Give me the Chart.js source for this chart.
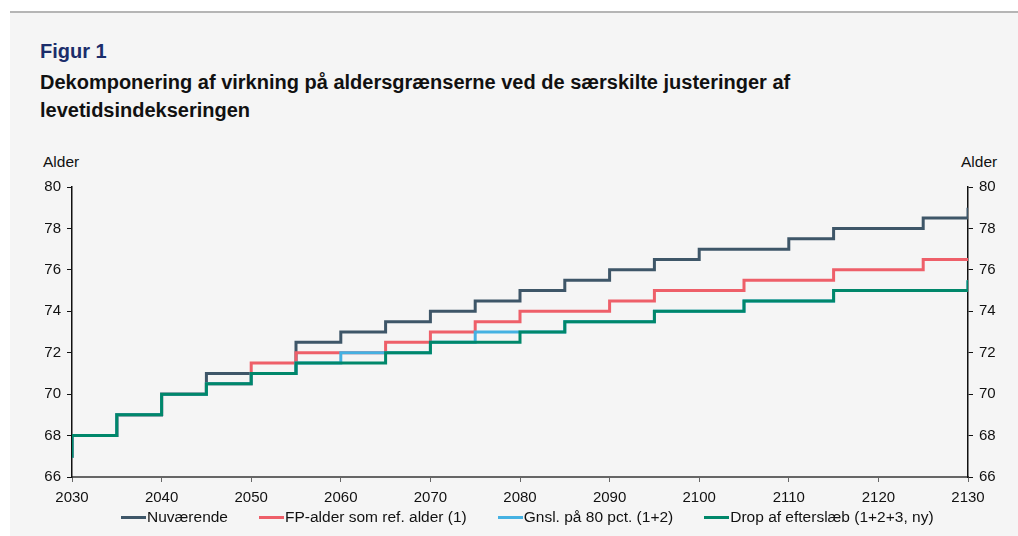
<!DOCTYPE html>
<html>
<head>
<meta charset="utf-8">
<script src="https://cdn.jsdelivr.net/npm/chart.js@4"></script>
<style>
  body { margin: 0; width: 1018px; height: 536px; position: relative; background: #fff; font-family: "Liberation Sans", Arial, sans-serif; overflow: hidden; }
  #bg { position: absolute; left: 10px; top: 11px; right: 0; bottom: 0; background: #f5f5f5; border-top: 2px solid #b5b5b5; }
  .t { position: absolute; left: 40px; font-weight: bold; font-size: 20px; line-height: 23px; white-space: nowrap; }
  #fig { top: 40px; color: #1b2d6b; }
  #sub1 { top: 71px; color: #111; }
  #sub2 { top: 99px; color: #111; }
  .alder { position: absolute; top: 153px; font-size: 15.5px; line-height: 18px; color: #111; }
  #wrap { position: absolute; left: 0; top: 0; width: 1018px; height: 536px; }
  #legend { position: absolute; left: 121px; top: 508px; display: flex; font-size: 15.5px; line-height: 18px; color: #111; white-space: nowrap; }
  #legend .item { display: flex; align-items: center; margin-right: 31px; }
  #legend .mark { width: 25px; height: 3px; margin-right: 1px; }
</style>
</head>
<body>
<div id="bg"></div>
<div class="t" id="fig">Figur 1</div>
<div class="t" id="sub1">Dekomponering af virkning på aldersgrænserne ved de særskilte justeringer af</div>
<div class="t" id="sub2">levetidsindekseringen</div>
<div class="alder" style="left:43px">Alder</div>
<div class="alder" style="left:961px">Alder</div>
<div id="wrap"><canvas id="myChart"></canvas></div>
<div id="legend"></div>
<script>
// pension age per 5-year step, value holds from that year until the next one
const years = [2025, 2030, 2035, 2040, 2045, 2050, 2055, 2060, 2065, 2070, 2075, 2080,
    2085, 2090, 2095, 2100, 2105, 2110, 2115, 2120, 2125, 2130];

const nuvaerende = [67, 68, 69, 70, 71, 71, 72.5, 73, 73.5, 74, 74.5, 75,
    75.5, 76, 76.5, 77, 77, 77.5, 78, 78, 78.5, 79];
const fpAlder = [67, 68, 69, 70, 70.5, 71.5, 72, 72, 72.5, 73, 73.5, 74,
    74, 74.5, 75, 75, 75.5, 75.5, 76, 76, 76.5, 76.5];
const gnsl80 = [67, 68, 69, 70, 70.5, 71, 71.5, 72, 72, 72.5, 73, 73,
    73.5, 73.5, 74, 74, 74.5, 74.5, 75, 75, 75, 75.5];
const dropEfterslaeb = [67, 68, 69, 70, 70.5, 71, 71.5, 71.5, 72, 72.5, 72.5, 73,
    73.5, 73.5, 74, 74, 74.5, 74.5, 75, 75, 75, 75.5];

const seriesNames = ['Nuværende', 'FP-alder som ref. alder (1)', 'Gnsl. på 80 pct. (1+2)', 'Drop af efterslæb (1+2+3, ny)'];
const seriesColors = ['#3e5668', '#ee5f69', '#45b1e2', '#00876a'];
const seriesValues = [nuvaerende, fpAlder, gnsl80, dropEfterslaeb];

const yTicks = [66, 68, 70, 72, 74, 76, 78, 80];

Chart.defaults.font.family = '"Liberation Sans", Arial, sans-serif';
Chart.defaults.font.size = 15;
Chart.defaults.color = '#111';

const datasets = [];
for (let i = 0; i < seriesNames.length; i++) {
    datasets.push({
        label: seriesNames[i],
        data: years.map((yr, j) => ({ x: yr, y: seriesValues[i][j] })),
        borderColor: seriesColors[i],
        backgroundColor: seriesColors[i],
        borderWidth: 3,
        pointRadius: 0,
        stepped: 'before',
        order: seriesNames.length - i // last series on top
    });
}

const axisGrid = (col) => ({ drawOnChartArea: false, color: col, tickLength: 5, tickWidth: 1 });

var ctx = document.getElementById('myChart').getContext('2d');
var myChart = new Chart(ctx, { // eslint-disable-line
    type: 'line',
    data: { datasets: datasets },
    options: {
        responsive: true,
        maintainAspectRatio: false,
        animation: false,
        layout: { padding: { left: 40, right: 0, top: 187, bottom: 29 } },
        scales: {
            x: {
                type: 'linear',
                min: 2030,
                max: 2130,
                ticks: { stepSize: 10, padding: 7, callback: v => String(v) },
                grid: axisGrid('#666'),
                border: { color: '#666', width: 2 },
                afterFit: s => { s.height = 30; }
            },
            y: {
                position: 'left',
                min: 66,
                max: 80,
                afterBuildTicks: s => { s.ticks = yTicks.map(v => ({ value: v })); },
                ticks: { padding: 6 },
                grid: axisGrid('#111'),
                border: { color: '#111', width: 1.5 },
                afterFit: s => { s.width = 32; }
            },
            y2: {
                position: 'right',
                display: true,
                min: 66,
                max: 80,
                afterBuildTicks: s => { s.ticks = yTicks.map(v => ({ value: v })); },
                ticks: { padding: 6 },
                grid: axisGrid('#111'),
                border: { color: '#111', width: 1.5 },
                afterFit: s => { s.width = 50; }
            }
        },
        plugins: {
            legend: { display: false },
            tooltip: { enabled: false }
        }
    }
});

// legend as html, same order as the datasets
const legendEl = document.getElementById('legend');
for (let ds of myChart.data.datasets) {
    const item = document.createElement('span');
    item.className = 'item';
    const mark = document.createElement('span');
    mark.className = 'mark';
    mark.style.background = ds.borderColor;
    item.appendChild(mark);
    item.appendChild(document.createTextNode(ds.label));
    legendEl.appendChild(item);
}
</script>
</body>
</html>
